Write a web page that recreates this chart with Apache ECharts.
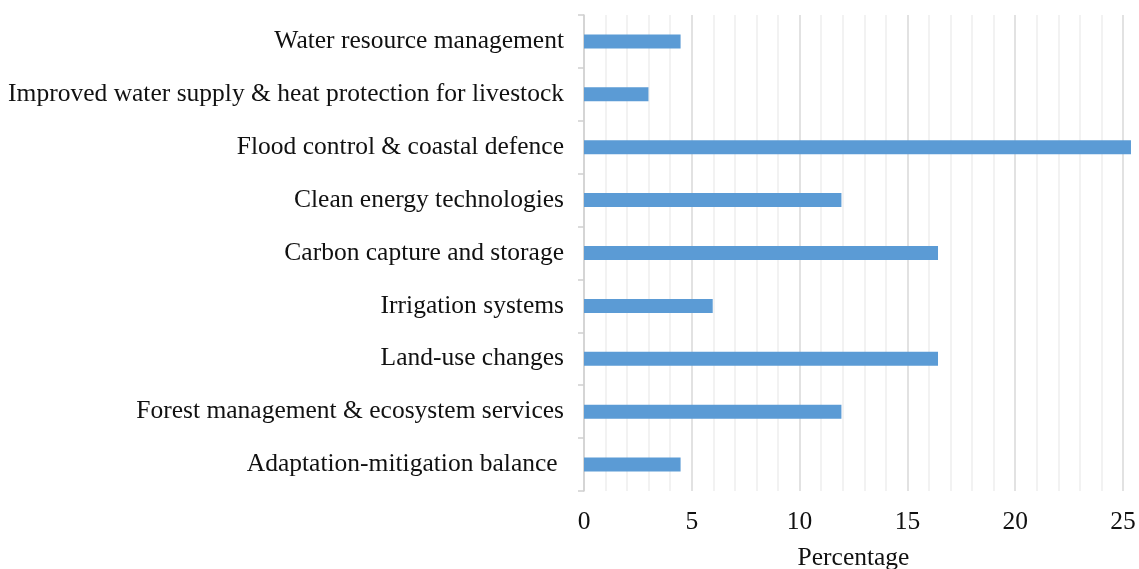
<!DOCTYPE html>
<html>
<head>
<meta charset="utf-8">
<script src="https://cdn.jsdelivr.net/npm/echarts@6/dist/echarts.min.js"></script>
<style>
  html, body { margin: 0; padding: 0; background: #fff; }
  #chart { width: 1139px; height: 569px; }
</style>
</head>
<body>
<div id="chart"></div>
<script>
// categories, top to bottom as in the picture
var categories = [
    'Water resource management',
    'Improved water supply & heat protection for livestock',
    'Flood control & coastal defence',
    'Clean energy technologies',
    'Carbon capture and storage',
    'Irrigation systems',
    'Land-use changes',
    'Forest management & ecosystem services',
    'Adaptation-mitigation balance '
];
var percentages = [4.48, 2.99, 25.37, 11.94, 16.42, 5.97, 16.42, 11.94, 4.48];
var xTicks = [0, 5, 10, 15, 20, 25];

var fontFamily = '"Liberation Serif", "Times New Roman", serif';
var myChart = echarts.init(document.getElementById('chart'));

var option = {
    animation: false,
    grid: {
        left: 584,
        right: 16,
        top: 15,
        bottom: 78,
        containLabel: false,
        outerBoundsMode: 'none'
    },
    xAxis: {
        type: 'value',
        min: xTicks[0],
        max: xTicks[xTicks.length - 1],
        interval: 5,
        name: 'Percentage',
        nameLocation: 'middle',
        nameGap: 54,
        nameTextStyle: { fontFamily: fontFamily, fontSize: 25.5, color: '#111' },
        axisLine: { show: false },
        axisTick: { show: false },
        axisLabel: {
            margin: 18,
            fontFamily: fontFamily,
            fontSize: 25.5,
            color: '#111'
        },
        splitLine: { show: true, lineStyle: { color: '#d9d9d9', width: 1.5 } },
        minorTick: { show: false, splitNumber: 5 },
        minorSplitLine: { show: true, lineStyle: { color: '#eeeeee', width: 1.5 } }
    },
    yAxis: {
        type: 'category',
        inverse: true,
        data: categories,
        axisLine: { show: true, lineStyle: { color: '#d0d0d0', width: 1.5 } },
        axisTick: { show: true, length: 6, lineStyle: { color: '#d0d0d0', width: 1.5 } },
        axisLabel: {
            margin: 20,
            fontFamily: fontFamily,
            fontSize: 25.5,
            color: '#111'
        }
    },
    series: [{
        type: 'bar',
        data: percentages,
        barWidth: 14,
        clip: false,
        itemStyle: { color: '#5b9bd5' }
    }]
};
myChart.setOption(option);
</script>
</body>
</html>
